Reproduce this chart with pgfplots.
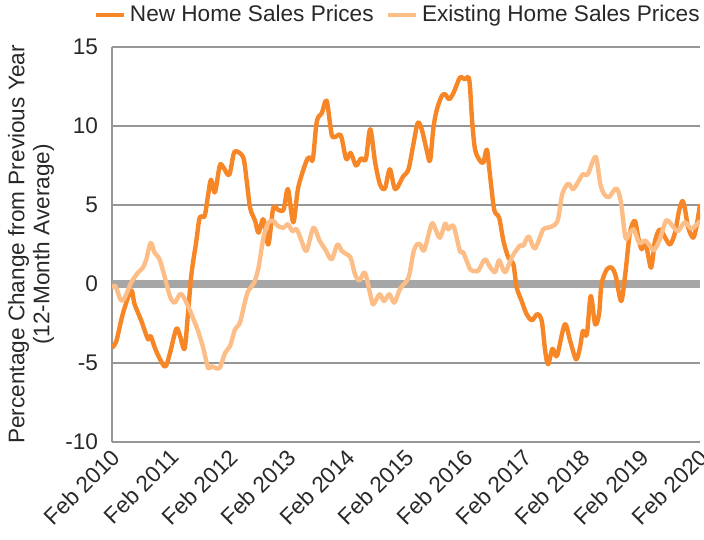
\documentclass[border=0pt]{standalone}
\usepackage{pgfplots}
\pgfplotsset{compat=1.18}
\usepackage{fontspec}
\setmainfont{Liberation Sans}
\definecolor{newc}{RGB}{246,134,38}
\definecolor{exc}{RGB}{253,189,135}
\definecolor{gridc}{RGB}{150,150,150}
\definecolor{zeroc}{RGB}{166,166,166}
\definecolor{txt}{RGB}{40,40,40}
\newcommand{\lblfont}{\fontsize{11.3}{12.5}\selectfont}
\begin{document}
\lblfont
\begin{tikzpicture}
\begin{axis}[name=ax, scale only axis, width=294pt, height=197.5pt,
 xmin=0, xmax=120, ymin=-10, ymax=15,
 ytick={-10,-5,0,5,10,15},
 xtick={0,12,24,36,48,60,72,84,96,108,120},
 xticklabels={Feb 2010,Feb 2011,Feb 2012,Feb 2013,Feb 2014,Feb 2015,Feb 2016,Feb 2017,Feb 2018,Feb 2019,Feb 2020},
 axis x line=bottom, axis y line=left,
 axis line style={gridc, line width=0.7pt, -},
 major tick length=0pt,
 ymajorgrids, grid style={gridc, line width=0.7pt},
 tick label style={font=\lblfont, text=txt},
 /pgf/number format/assume math mode=true,
 xticklabel style={rotate=45, anchor=north east, inner sep=1pt, xshift=-1.5pt},
 yticklabel style={anchor=east, xshift=-3pt},
 ylabel={Percentage Change from Previous Year\\(12-Month Average)},
 ylabel style={at={(axis description cs:-0.1378,0.5)}, anchor=center, align=center, font=\lblfont, text=txt},
 legend style={at={(axis description cs:1,1.081)}, anchor=east, xshift=5pt, draw=none, fill=none, font=\lblfont, text=txt,
   /tikz/every even column/.append style={column sep=4pt}},
 legend columns=2,
 legend image code/.code={\draw[#1, line width=2.2pt] (0pt,0pt) -- (14pt,0pt);},
]
\addplot[zeroc, line width=4pt, forget plot] coordinates {(0,0) (120,0)};
\addplot[newc, line width=2.2pt, smooth, line join=round] coordinates {
(0,-4.03) (0.9,-3.6) (2.2,-1.9) (3.9,-0.4) (4.6,-1.27) (6.0,-2.34) (7.35,-3.5) (7.9,-3.3)
(9.0,-4.24) (10.8,-5.23) (11.8,-4.4) (13.1,-2.85) (13.8,-3.2) (14.8,-4.1) (15.5,-1.9) (16.2,0.6)
(17.2,2.7) (17.9,4.2) (18.9,4.3) (19.6,5.6) (20.2,6.6) (21.0,5.8) (22.0,7.5) (22.7,7.4)
(23.9,6.9) (24.8,8.2) (25.4,8.4) (26.8,8.0) (27.5,6.5) (28.2,4.8) (29.2,4.0) (29.9,3.25)
(30.9,4.1) (31.9,2.5) (32.9,4.8) (33.9,4.7) (35.0,4.7) (35.9,6.0) (37.0,3.9) (38.0,6.1)
(39.7,7.8) (40.4,8.0) (41.0,7.9) (41.8,10.3) (42.8,10.8) (43.8,11.6) (44.8,9.5) (45.5,9.3)
(46.7,9.4) (47.8,7.9) (48.7,8.3) (49.8,7.5) (50.8,7.95) (51.8,7.9) (52.7,9.8) (53.7,7.7)
(54.7,6.3) (55.7,6.05) (56.7,7.26) (57.8,6.0) (59.4,6.8) (60.5,7.26) (61.5,8.84) (62.4,10.2)
(63.2,9.8) (64.2,8.5) (64.9,7.8) (65.6,9.9) (66.3,11.05) (67.3,11.9) (68.0,12.0) (68.8,11.7)
(69.7,12.1) (71.0,13.06) (72.0,12.95) (72.9,12.95) (73.5,10.3) (74.1,8.5) (75.1,7.8) (75.8,7.7)
(76.5,8.5) (77.1,7.0) (78.0,4.7) (79.0,4.2) (79.9,2.7) (80.9,1.66) (81.9,1.25) (82.6,-0.23)
(83.6,-1.08) (84.6,-1.9) (85.7,-2.3) (86.8,-1.9) (87.7,-2.34) (88.4,-4.24) (89.0,-5.08) (89.9,-4.1)
(90.8,-4.56) (92.4,-2.55) (93.5,-3.6) (94.7,-4.77) (95.5,-4.03) (96.1,-2.97) (96.9,-3.2) (97.7,-0.76)
(98.6,-2.55) (99.4,-1.9) (99.9,0) (101.0,0.93) (102.0,1.03) (102.8,0.5) (103.9,-1.08) (104.7,0.5)
(105.7,3.25) (106.7,4.0) (107.4,2.93) (108.1,2.2) (108.9,2.6) (110.0,1.03) (110.8,2.7) (111.8,3.46)
(112.9,2.93) (113.9,2.5) (114.9,3.25) (115.7,4.6) (116.4,5.25) (116.9,4.8) (117.6,3.56) (118.6,2.93)
(119.3,3.67) (120,5.04)};
\addlegendentry{New Home Sales Prices}
\addplot[exc, line width=2.2pt, smooth, line join=round] coordinates {
(0,-0.27) (0.7,-0.13) (1.8,-1.03) (2.6,-0.87) (3.9,0.08) (5.3,0.72) (6.3,1.03) (7.0,1.56)
(7.9,2.6) (8.7,1.98) (9.7,1.56) (10.8,0.4) (11.8,-0.76) (12.8,-1.18) (14.0,-0.61) (15.2,-1.18)
(16.5,-2.13) (17.55,-2.97) (18.6,-4.03) (19.6,-5.3) (20.3,-5.2) (21.0,-5.3) (22.0,-5.3) (23.1,-4.35)
(24.1,-3.92) (25.1,-2.87) (26.1,-2.45) (27.1,-1.18) (27.8,-0.44) (29.0,0.08) (29.9,1.03) (30.9,2.93)
(31.9,3.88) (32.9,3.99) (33.9,3.67) (35.0,3.56) (35.9,3.78) (36.8,3.35) (37.7,3.46) (38.7,2.72)
(39.7,2.09) (41.1,3.56) (42.4,2.72) (43.5,2.2) (44.8,1.56) (46.0,2.5) (46.9,2.09) (47.9,1.88)
(48.7,1.66) (49.6,0.61) (50.5,0.23) (51.6,0.72) (52.7,-0.65) (53.3,-1.29) (54.6,-0.65) (55.5,-1.08)
(56.6,-0.65) (57.6,-1.18) (58.8,-0.3) (60.5,0.4) (61.5,1.98) (62.2,2.5) (62.9,2.5) (63.7,2.13)
(65.2,3.78) (65.9,3.56) (66.9,2.93) (68.0,3.82) (68.6,3.46) (69.7,3.67) (71.0,2.09) (71.7,1.98)
(73.1,0.93) (74.1,0.82) (74.8,0.86) (76.1,1.56) (77.1,1.1) (78.2,0.75) (79.0,1.5) (80.2,0.75)
(81.7,1.75) (83.3,2.45) (83.9,2.4) (85.0,3.0) (86.3,2.25) (88.0,3.46) (89.0,3.56) (90.4,3.75)
(91.1,4.2) (91.9,5.7) (93.1,6.35) (94.1,6.0) (95.2,6.5) (96.1,6.95) (97.1,6.95) (98.7,8.05)
(99.6,6.4) (100.4,5.7) (101.4,5.5) (102.9,6.05) (103.8,5.3) (104.8,2.93) (105.7,3.25) (106.5,3.43)
(107.6,2.6) (108.8,2.74) (109.8,2.4) (110.6,2.13) (111.8,2.83) (113.1,4.02) (114.4,3.67) (115.5,3.35)
(116.9,3.9) (118.3,3.5) (120,4.0)};
\addlegendentry{Existing Home Sales Prices}
\end{axis}
\pgfresetboundingbox
\path[use as bounding box] ([shift={(-56pt,-48.5pt)}]ax.south west) rectangle ([shift={(2pt,23.5pt)}]ax.north east);
\end{tikzpicture}
\end{document}
